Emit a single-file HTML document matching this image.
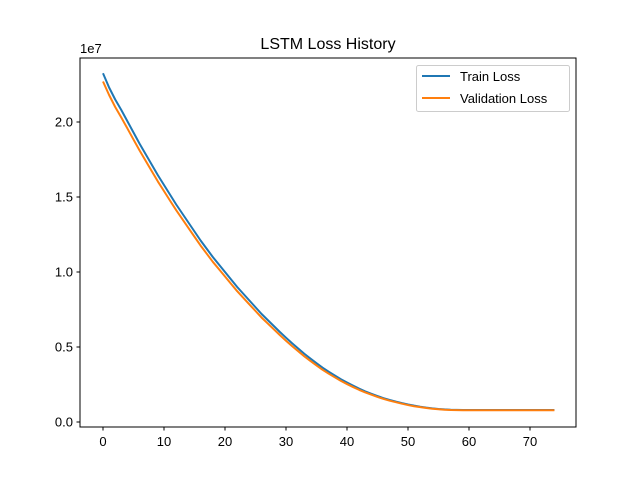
<!DOCTYPE html>
<html><head><meta charset="utf-8"><style>
html,body{margin:0;padding:0;background:#fff;}
svg{display:block;font-family:"Liberation Sans","DejaVu Sans",sans-serif;}
</style></head><body>
<svg id="chart" width="640" height="480">
<rect x="0" y="0" width="640" height="480" fill="#fff"/>
<text x="328" y="49" text-anchor="middle" font-size="16">LSTM Loss History</text>
<text x="80" y="53" font-size="13">1e7</text>
<g id="xticks"></g>
<g id="yticks"></g>
<g id="lines"></g>
<rect x="80" y="58" width="496" height="369" fill="none" stroke="#000" stroke-width="1"/>
<g>
<rect x="416.5" y="65.5" width="153" height="46" fill="#fff" fill-opacity="0.8" stroke="#ccc" rx="2"/>
<line x1="422" y1="76" x2="450" y2="76" stroke="#1f77b4" stroke-width="2"/>
<text x="460" y="81" font-size="13">Train Loss</text>
<line x1="422" y1="98" x2="450" y2="98" stroke="#ff7f0e" stroke-width="2"/>
<text x="460" y="103" font-size="13">Validation Loss</text>
</g>
</svg>
<script>
const xTickValues=[0,10,20,30,40,50,60,70];
const yTickValues=[0,0.5,1.0,1.5,2.0];
const yTickLabels=["0.0","0.5","1.0","1.5","2.0"];
const trainLoss=[2.325,2.23,2.15,2.08,2.005,1.93,1.855,1.785,1.715,1.645,1.58,1.515,1.45,1.39,1.33,1.27,1.21,1.155,1.10,1.05,1.0,0.95,0.90,0.855,0.81,0.765,0.72,0.68,0.64,0.60,0.562,0.525,0.49,0.455,0.423,0.392,0.362,0.335,0.31,0.285,0.263,0.242,0.222,0.204,0.188,0.173,0.159,0.147,0.136,0.126,0.117,0.109,0.102,0.096,0.091,0.087,0.084,0.082,0.081,0.080,0.080,0.080,0.080,0.080,0.080,0.080,0.080,0.080,0.080,0.080,0.080,0.080,0.080,0.080,0.080];
const valLoss=[2.27,2.18,2.10,2.03,1.957,1.883,1.81,1.741,1.672,1.603,1.539,1.475,1.412,1.353,1.294,1.235,1.176,1.122,1.068,1.019,0.97,0.921,0.872,0.828,0.784,0.74,0.696,0.657,0.618,0.579,0.542,0.506,0.472,0.438,0.407,0.377,0.348,0.322,0.298,0.274,0.253,0.233,0.214,0.197,0.182,0.167,0.154,0.142,0.132,0.122,0.113,0.105,0.099,0.093,0.088,0.085,0.082,0.080,0.079,0.078,0.078,0.078,0.078,0.078,0.078,0.078,0.078,0.078,0.078,0.078,0.078,0.078,0.078,0.078,0.078];
const NS="http://www.w3.org/2000/svg";
function xs(v){return 103+v*(427/70);}
function ys(v){return 422-v*150;}
function mk(tag,attrs,parent){const e=document.createElementNS(NS,tag);for(const k in attrs)e.setAttribute(k,attrs[k]);parent.appendChild(e);return e;}
const gx=document.getElementById('xticks'),gy=document.getElementById('yticks'),gl=document.getElementById('lines');
xTickValues.forEach(v=>{
 const t=mk('line',{x1:xs(v),x2:xs(v),y1:427,y2:430.5,stroke:'#000'},gx);
 
 
 const l=mk('text',{x:xs(v),y:446,'text-anchor':'middle','font-size':13},gx);
 l.textContent=v;
 
 
});
yTickValues.forEach((v,i)=>{
 const t=mk('line',{x1:76.5,x2:80,y1:ys(v),y2:ys(v),stroke:'#000'},gy);
 
 
 const l=mk('text',{x:73,y:ys(v)+4.5,'text-anchor':'end','font-size':13},gy);
 l.textContent=yTickLabels[i];
 
 
});
function path(arr){return arr.map((v,i)=>(i?'L':'M')+xs(i).toFixed(2)+','+ys(v).toFixed(2)).join(' ');}
const p1=mk('path',{d:path(trainLoss),fill:'none',stroke:'#1f77b4','stroke-width':2,'stroke-linejoin':'round'},gl);


const p2=mk('path',{d:path(valLoss),fill:'none',stroke:'#ff7f0e','stroke-width':2,'stroke-linejoin':'round'},gl);


</script>
</body></html>
